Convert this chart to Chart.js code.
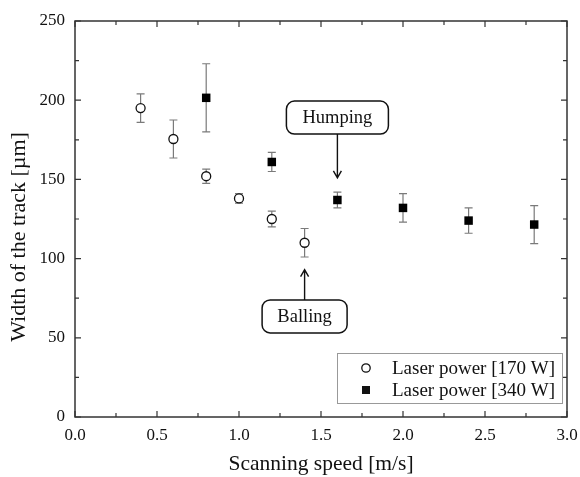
<!DOCTYPE html>
<html>
<head>
<meta charset="utf-8">
<script src="https://cdn.jsdelivr.net/npm/chart.js@4.4.1/dist/chart.umd.min.js"></script>
<style>
  html, body { margin: 0; padding: 0; background: #ffffff; }
  #wrap { width: 580px; height: 477px; position: relative; }
</style>
</head>
<body>
<div id="wrap"><canvas id="c" width="580" height="477"></canvas></div>
<script>
// ---- data ----
const speeds170 = [0.4, 0.6, 0.8, 1.0, 1.2, 1.4];
const width170  = [195, 175.5, 152, 138, 125, 110];
const err170    = [9, 12, 4.5, 3, 5, 9];

const speeds340 = [0.8, 1.2, 1.6, 2.0, 2.4, 2.8];
const width340  = [201.5, 161, 137, 132, 124, 121.5];
const err340    = [21.5, 6, 5, 9, 8, 12];

const xTicks = [0.0, 0.5, 1.0, 1.5, 2.0, 2.5, 3.0];
const yTicks = [0, 50, 100, 150, 200, 250];

const seriesLabels = ['Laser power [170 W]', 'Laser power [340 W]'];
const yTitle = 'Width of the track [µm]';
const xTitle = 'Scanning speed [m/s]';
const notes = [
  { text: 'Humping', x: 1.6, boxY: 189, tipY: 151 },
  { text: 'Balling', x: 1.4, boxY: 63.5, tipY: 93 }
];

const FONT = '"Liberation Serif", "Times New Roman", serif';

const toPts = (xs, ys) => xs.map((x, i) => ({ x: x, y: ys[i] }));

// ---- plugin: error bars, ticks, frame, annotations, legend ----
const decor = {
  id: 'decor',
  beforeDatasetsDraw(chart) {
    const ctx = chart.ctx;
    const xs = chart.scales.x, ys = chart.scales.y;
    ctx.save();
    ctx.strokeStyle = '#7a7a7a';
    ctx.lineWidth = 1.2;
    const sets = [[speeds170, width170, err170], [speeds340, width340, err340]];
    sets.forEach(([sx, sy, se]) => {
      sx.forEach((v, i) => {
        const px = xs.getPixelForValue(v);
        const pt = ys.getPixelForValue(sy[i] + se[i]);
        const pb = ys.getPixelForValue(sy[i] - se[i]);
        ctx.beginPath();
        ctx.moveTo(px, pt); ctx.lineTo(px, pb);
        ctx.moveTo(px - 4, pt); ctx.lineTo(px + 4, pt);
        ctx.moveTo(px - 4, pb); ctx.lineTo(px + 4, pb);
        ctx.stroke();
      });
    });
    ctx.restore();
  },
  afterDraw(chart) {
    const ctx = chart.ctx;
    const a = chart.chartArea;
    const xs = chart.scales.x, ys = chart.scales.y;
    ctx.save();
    // frame
    ctx.strokeStyle = '#333333';
    ctx.lineWidth = 1.5;
    ctx.strokeRect(a.left, a.top, a.right - a.left, a.bottom - a.top);
    // ticks (inward, mirrored)
    ctx.lineWidth = 1.2;
    ctx.beginPath();
    for (let v = 0; v <= 3.0001; v += 0.25) {
      const px = xs.getPixelForValue(v);
      const major = Math.abs(v * 2 - Math.round(v * 2)) < 1e-6;
      const L = major ? 6 : 4;
      ctx.moveTo(px, a.bottom); ctx.lineTo(px, a.bottom - L);
      ctx.moveTo(px, a.top); ctx.lineTo(px, a.top + L);
    }
    for (let v = 0; v <= 250.001; v += 25) {
      const py = ys.getPixelForValue(v);
      const major = (v % 50) === 0;
      const L = major ? 6 : 4;
      ctx.moveTo(a.left, py); ctx.lineTo(a.left + L, py);
      ctx.moveTo(a.right, py); ctx.lineTo(a.right - L, py);
    }
    ctx.stroke();

    // y-axis title
    ctx.save();
    ctx.translate(19, 237);
    ctx.rotate(-Math.PI / 2);
    ctx.font = '22px ' + FONT;
    ctx.fillStyle = '#111111';
    ctx.textAlign = 'center';
    ctx.textBaseline = 'middle';
    ctx.fillText(yTitle, 0, 0);
    ctx.restore();

    // annotations
    ctx.font = '18.5px ' + FONT;
    ctx.textAlign = 'center';
    ctx.textBaseline = 'middle';
    notes.forEach(n => {
      const cx = xs.getPixelForValue(n.x);
      const cy = ys.getPixelForValue(n.boxY);
      const w = n.text === 'Humping' ? 102 : 85, h = 33;
      const bx = cx - w / 2, by = cy - h / 2;
      ctx.beginPath();
      ctx.roundRect(bx, by, w, h, 8);
      ctx.fillStyle = '#ffffff';
      ctx.fill();
      ctx.strokeStyle = '#111111';
      ctx.lineWidth = 1.5;
      ctx.stroke();
      ctx.fillStyle = '#111111';
      ctx.fillText(n.text, cx, cy + 1);
      // arrow
      const tip = ys.getPixelForValue(n.tipY);
      const start = tip > cy ? by + h : by;
      const dir = tip > start ? 1 : -1;
      ctx.beginPath();
      ctx.moveTo(cx, start); ctx.lineTo(cx, tip);
      ctx.moveTo(cx - 4, tip - dir * 7); ctx.lineTo(cx, tip); ctx.lineTo(cx + 4, tip - dir * 7);
      ctx.lineWidth = 1.4;
      ctx.stroke();
    });

    // legend
    const lx = 337, ly = 353, lw = 225, lh = 50;
    ctx.strokeStyle = '#999999';
    ctx.lineWidth = 1;
    ctx.fillStyle = '#ffffff';
    ctx.fillRect(lx, ly, lw, lh);
    ctx.strokeRect(lx + 0.5, ly + 0.5, lw, lh);
    ctx.textAlign = 'left';
    ctx.fillStyle = '#111111';
    ctx.font = '19px ' + FONT;
    const rows = [368, 390];
    ctx.beginPath();
    ctx.arc(366, rows[0], 4.2, 0, Math.PI * 2);
    ctx.strokeStyle = '#111111';
    ctx.lineWidth = 1.3;
    ctx.stroke();
    ctx.fillText(seriesLabels[0], 392, rows[0] + 1);
    ctx.fillRect(362, rows[1] - 4, 8, 8);
    ctx.fillText(seriesLabels[1], 392, rows[1] + 1);
    ctx.restore();
  }
};

new Chart(document.getElementById('c'), {
  type: 'scatter',
  data: {
    datasets: [
      {
        label: seriesLabels[0],
        data: toPts(speeds170, width170),
        pointStyle: 'circle',
        pointRadius: 4.5,
        pointHoverRadius: 4.5,
        backgroundColor: '#ffffff',
        borderColor: '#111111',
        borderWidth: 1.3
      },
      {
        label: seriesLabels[1],
        data: toPts(speeds340, width340),
        pointStyle: 'rect',
        pointRadius: 6,
        pointHoverRadius: 6,
        backgroundColor: '#000000',
        borderColor: '#000000',
        borderWidth: 0
      }
    ]
  },
  options: {
    responsive: false,
    animation: false,
    events: [],
    layout: { padding: { left: 1, top: 21, right: 13, bottom: 0 } },
    plugins: {
      legend: { display: false },
      tooltip: { enabled: false }
    },
    scales: {
      x: {
        type: 'linear',
        min: 0, max: 3,
        afterBuildTicks(scale) { scale.ticks = xTicks.map(v => ({ value: v })); },
        afterFit(scale) { scale.height = 60; scale.paddingLeft = 0; scale.paddingRight = 0; },
        grid: { display: false, drawTicks: false },
        border: { display: false },
        ticks: {
          padding: 8,
          color: '#111111',
          font: { family: FONT, size: 17 },
          maxRotation: 0,
          callback: v => v.toFixed(1)
        },
        title: {
          display: true,
          text: xTitle,
          color: '#111111',
          font: { family: FONT, size: 21.5 },
          padding: { top: 0, bottom: 0 }
        }
      },
      y: {
        type: 'linear',
        min: 0, max: 250,
        afterBuildTicks(scale) { scale.ticks = yTicks.map(v => ({ value: v })); },
        afterFit(scale) { scale.width = 74; scale.paddingTop = 0; scale.paddingBottom = 0; },
        grid: { display: false, drawTicks: false },
        border: { display: false },
        ticks: {
          padding: 10,
          color: '#111111',
          font: { family: FONT, size: 17 },
          callback: v => String(v)
        },
        title: { display: false }
      }
    }
  },
  plugins: [decor]
});
</script>
</body>
</html>
